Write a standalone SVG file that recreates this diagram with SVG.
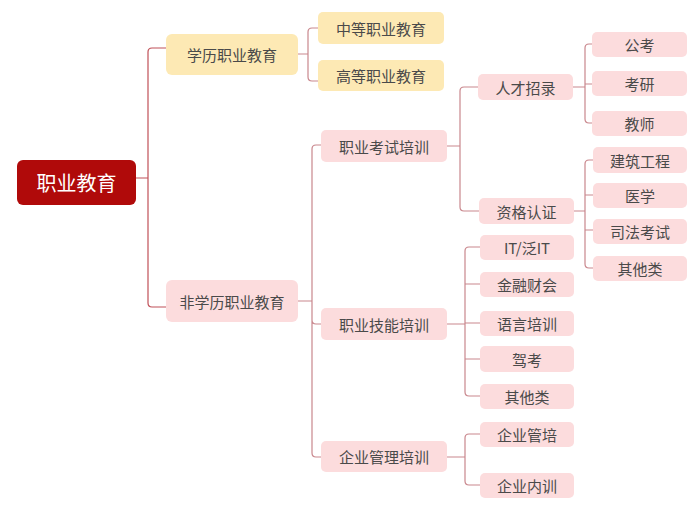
<svg xmlns="http://www.w3.org/2000/svg" width="700" height="511" viewBox="0 0 700 511">
<style>
text{font-family:"Noto Sans CJK SC","Noto Sans",sans-serif;text-anchor:middle;dominant-baseline:central;fill:#4a4a4a;font-size:15px}
.y{fill:#fde9b4}
.p{fill:#fcdcdd}
.root{fill:#b00a0a}
.rt{fill:#ffffff;font-size:20px}
.c path{fill:none;stroke:#c9878d;stroke-width:1.2}
</style>
<rect width="700" height="511" fill="#ffffff"/>
<g class="c" id="connectors">
<path d="M136 178H148M148 178V52Q148 48 152 48H166M148 178V303Q148 307 152 307H166" style="stroke:#c05058"/>
<path d="M298 54H308M308 54V32Q308 28 312 28H318M308 54V77Q308 81 312 81H318"/>
<path d="M298 301H312M312 301V149Q312 145 316 145H321M312 301V320Q312 324 316 324H321M312 301V453Q312 457 316 457H321"/>
<path d="M447 146H460M460 146V91Q460 87 464 87H478M460 146V207Q460 211 464 211H479"/>
<path d="M573 87H585M585 87V48Q585 44 589 44H592M585 87V84H592M585 87V119Q585 123 589 123H592"/>
<path d="M574 211H585M585 211V164Q585 160 589 160H593M585 211V195H593M585 211V230H593M585 211V264Q585 268 589 268H593"/>
<path d="M447 324H465M465 324V251Q465 247 469 247H480M465 324V284H480M465 324V323H480M465 324V359H480M465 324V392Q465 396 469 396H480"/>
<path d="M447 457H465M465 457V438Q465 434 469 434H480M465 457V481Q465 485 469 485H480"/>
</g>
<g id="n-root"><rect class="root" x="17" y="160" width="119" height="45" rx="6"/><text class="rt" x="76.5" y="182.5">职业教育</text></g>
<g id="n-xl"><rect class="y" x="166" y="34" width="132" height="41" rx="6"/><text x="232" y="54.5">学历职业教育</text></g>
<g id="n-fxl"><rect class="p" x="166" y="280" width="132" height="42" rx="6"/><text x="232" y="301">非学历职业教育</text></g>
<g id="n-zd"><rect class="y" x="318" y="12" width="126" height="32" rx="5"/><text x="381" y="28">中等职业教育</text></g>
<g id="n-gd"><rect class="y" x="318" y="60" width="126" height="31" rx="5"/><text x="381" y="75.5">高等职业教育</text></g>
<g id="n-ks"><rect class="p" x="321" y="130" width="126" height="32" rx="5"/><text x="384" y="146">职业考试培训</text></g>
<g id="n-jn"><rect class="p" x="321" y="308" width="126" height="32" rx="5"/><text x="384" y="324">职业技能培训</text></g>
<g id="n-gl"><rect class="p" x="321" y="441" width="126" height="31" rx="5"/><text x="384" y="456.5">企业管理培训</text></g>
<g id="n-rc"><rect class="p" x="478" y="74" width="95" height="26" rx="5"/><text x="525.5" y="87">人才招录</text></g>
<g id="n-zg"><rect class="p" x="479" y="198" width="95" height="26" rx="5"/><text x="526.5" y="211">资格认证</text></g>
<g id="n-gk"><rect class="p" x="592" y="32" width="95" height="25" rx="5"/><text x="639.5" y="44.5">公考</text></g>
<g id="n-ky"><rect class="p" x="592" y="71" width="95" height="25" rx="5"/><text x="639.5" y="83.5">考研</text></g>
<g id="n-js"><rect class="p" x="592" y="111" width="95" height="25" rx="5"/><text x="639.5" y="123.5">教师</text></g>
<g id="n-jz"><rect class="p" x="593" y="147" width="94" height="26" rx="5"/><text x="640" y="160">建筑工程</text></g>
<g id="n-yx"><rect class="p" x="593" y="183" width="94" height="25" rx="5"/><text x="640" y="195.5">医学</text></g>
<g id="n-sf"><rect class="p" x="593" y="219" width="94" height="25" rx="5"/><text x="640" y="231">司法考试</text></g>
<g id="n-qt1"><rect class="p" x="593" y="256" width="94" height="25" rx="5"/><text x="640" y="268.5">其他类</text></g>
<g id="n-it"><rect class="p" x="480" y="235" width="94" height="25" rx="5"/><text x="527" y="247.5">IT/泛IT</text></g>
<g id="n-jr"><rect class="p" x="480" y="272" width="94" height="25" rx="5"/><text x="527" y="284.5">金融财会</text></g>
<g id="n-yy"><rect class="p" x="480" y="311" width="94" height="25" rx="5"/><text x="527" y="323.5">语言培训</text></g>
<g id="n-jk"><rect class="p" x="480" y="346" width="94" height="26" rx="5"/><text x="527" y="359">驾考</text></g>
<g id="n-qt2"><rect class="p" x="480" y="384" width="94" height="25" rx="5"/><text x="527" y="396.5">其他类</text></g>
<g id="n-gp"><rect class="p" x="480" y="422" width="94" height="25" rx="5"/><text x="527" y="434.5">企业管培</text></g>
<g id="n-nx"><rect class="p" x="480" y="473" width="94" height="25" rx="5"/><text x="527" y="485.5">企业内训</text></g>
</svg>
